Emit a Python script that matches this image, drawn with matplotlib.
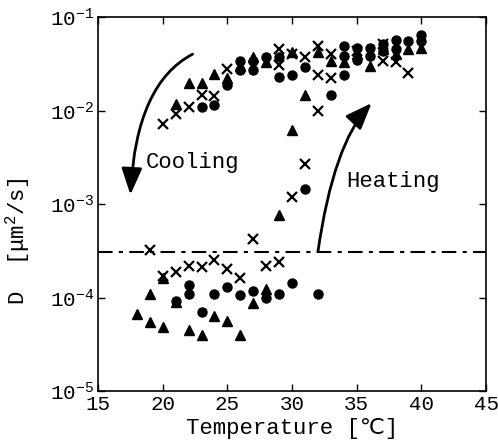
import numpy as np
import matplotlib as mpl
import matplotlib.pyplot as plt
from matplotlib.patches import FancyArrowPatch
from matplotlib.path import Path

# crosses
cross_t = [19, 20, 21, 22, 23, 24, 25, 26, 27, 28, 29, 30, 31, 32,
           20, 21, 22, 23, 24, 25, 29, 29, 30, 31, 32, 32, 33, 33,
           35, 37, 37, 38, 39]
cross_d = [3.2e-4, 1.7e-4, 1.86e-4, 2.2e-4, 2.1e-4, 2.5e-4, 2.0e-4, 1.6e-4,
           4.2e-4, 2.2e-4, 2.4e-4, 1.2e-3, 2.7e-3, 9.8e-3,
           7.1e-3, 9.1e-3, 1.1e-2, 1.47e-2, 1.42e-2, 2.8e-2, 4.6e-2, 3.1e-2,
           4.0e-2, 3.7e-2, 4.9e-2, 2.4e-2, 4.0e-2, 2.2e-2,
           4.3e-2, 5.1e-2, 3.4e-2, 3.3e-2, 2.5e-2]

# circles
circle_t = [21, 22, 22, 23, 24, 25, 26, 27, 28, 29, 30, 32,
            31, 33,
            23, 24, 25, 26, 26, 27, 27, 28, 29, 29, 30, 31,
            34, 34, 34, 35, 35, 36, 36, 37, 37, 38, 38, 39, 40, 40]
circle_d = [9.1e-5, 1.37e-4, 1.1e-4, 7.1e-5, 1.1e-4, 1.3e-4, 1.06e-4, 1.17e-4,
            9.8e-5, 1.1e-4, 1.44e-4, 1.08e-4,
            1.46e-3, 1.47e-2,
            1.1e-2, 1.15e-2, 1.87e-2, 3.4e-2, 2.7e-2, 3.4e-2, 2.7e-2, 3.7e-2,
            3.7e-2, 2.3e-2, 2.4e-2, 2.9e-2,
            4.9e-2, 3.8e-2, 2.4e-2, 4.7e-2, 3.5e-2, 4.7e-2, 3.8e-2, 4.3e-2,
            5.1e-2, 5.7e-2, 4.5e-2, 5.5e-2, 6.4e-2, 5.5e-2]

# triangles
tri_t = [18, 19, 19, 20, 20, 21, 22, 23, 24, 25, 26, 27, 28,
         29, 30, 31,
         21, 22, 23, 24, 25, 26, 27, 28, 30, 32, 33, 34, 35, 36, 37, 38,
         39, 40]
tri_d = [6.7e-5, 1.08e-4, 5.5e-5, 1.6e-4, 4.9e-5, 9.0e-5, 4.5e-5, 4.0e-5,
         6.3e-5, 5.6e-5, 4.0e-5, 8.7e-5, 1.25e-4,
         7.7e-4, 6.2e-3, 1.47e-2,
         1.17e-2, 1.95e-2, 1.95e-2, 2.46e-2, 2.2e-2, 3.0e-2, 3.7e-2, 3.3e-2,
         4.2e-2, 4.2e-2, 3.4e-2, 3.3e-2, 4.0e-2, 3.0e-2, 4.6e-2, 4.0e-2,
         4.5e-2, 4.7e-2]

threshold_d = 3.1e-4
x_ticks = [15, 20, 25, 30, 35, 40, 45]
y_ticks = [1e-5, 1e-4, 1e-3, 1e-2, 1e-1]
y_tick_labels = ['$\\mathregular{10^{-5}}$', '$\\mathregular{10^{-4}}$',
                 '$\\mathregular{10^{-3}}$', '$\\mathregular{10^{-2}}$',
                 '$\\mathregular{10^{-1}}$']

mpl.rcParams['font.family'] = ['Liberation Mono', 'DejaVu Sans']
mpl.rcParams['mathtext.fontset'] = 'custom'
mpl.rcParams['mathtext.rm'] = 'Liberation Mono'
mpl.rcParams['figure.subplot.left'] = 0.197
mpl.rcParams['figure.subplot.right'] = 0.976
mpl.rcParams['figure.subplot.bottom'] = 0.125
mpl.rcParams['figure.subplot.top'] = 0.962

fig = plt.figure()
fig.set_size_inches(4.98, 4.47)
fig.dpi = 100
axes = fig.add_subplot(111)

axes.set_yscale('log')
axes.set_xlim(15, 45)
axes.set_ylim(1e-5, 1e-1)

axes.plot(cross_t, cross_d, 'x', color='black', ms=7, mew=1.6)
axes.plot(circle_t, circle_d, 'o', color='black', ms=6.5)
axes.plot(tri_t, tri_d, '^', color='black', ms=6.5)

axes.axhline(threshold_d, color='black', lw=1.5,
             linestyle=(0, (7, 3, 2, 3)))

# cooling / heating arrows (quadratic curves)
head = '-|>,head_length=0.9,head_width=0.35'
cool_path = Path([(22.3, 4.0e-2), (17.95, 1.94e-2), (17.5, 1.26e-3)],
                 [Path.MOVETO, Path.CURVE3, Path.CURVE3])
cool = FancyArrowPatch(path=cool_path, arrowstyle=head, mutation_scale=18,
                       lw=2, color='black', transform=axes.transData)
axes.add_patch(cool)
heat_path = Path([(32.0, threshold_d), (33.2, 4.4e-3), (36.15, 1.2e-2)],
                 [Path.MOVETO, Path.CURVE3, Path.CURVE3])
heat = FancyArrowPatch(path=heat_path, arrowstyle=head, mutation_scale=18,
                       lw=2, color='black', transform=axes.transData)
axes.add_patch(heat)

axes.text(22.3, 2.8e-3, 'Cooling', fontsize=16, ha='center', va='center')
axes.text(37.8, 1.75e-3, 'Heating', fontsize=16, ha='center', va='center')

axes.set_xticks(x_ticks)
axes.set_xticklabels([str(t) for t in x_ticks])
axes.set_yticks(y_ticks)
axes.set_yticklabels(y_tick_labels)
axes.yaxis.set_minor_locator(mpl.ticker.NullLocator())
axes.tick_params(direction='in', length=5, width=1, top=True, right=True,
                 labelsize=15, pad=3)

axes.set_xlabel('Temperature [\u2103]', fontsize=16, labelpad=3)
axes.set_ylabel('D  [\u03bcm$^2$/s]', fontsize=16)
axes.yaxis.set_label_coords(-0.17, 0.40)

for spine in axes.spines.values():
    spine.set_linewidth(1.2)

plt.savefig('out.png', dpi=100)
plt.close(fig)
